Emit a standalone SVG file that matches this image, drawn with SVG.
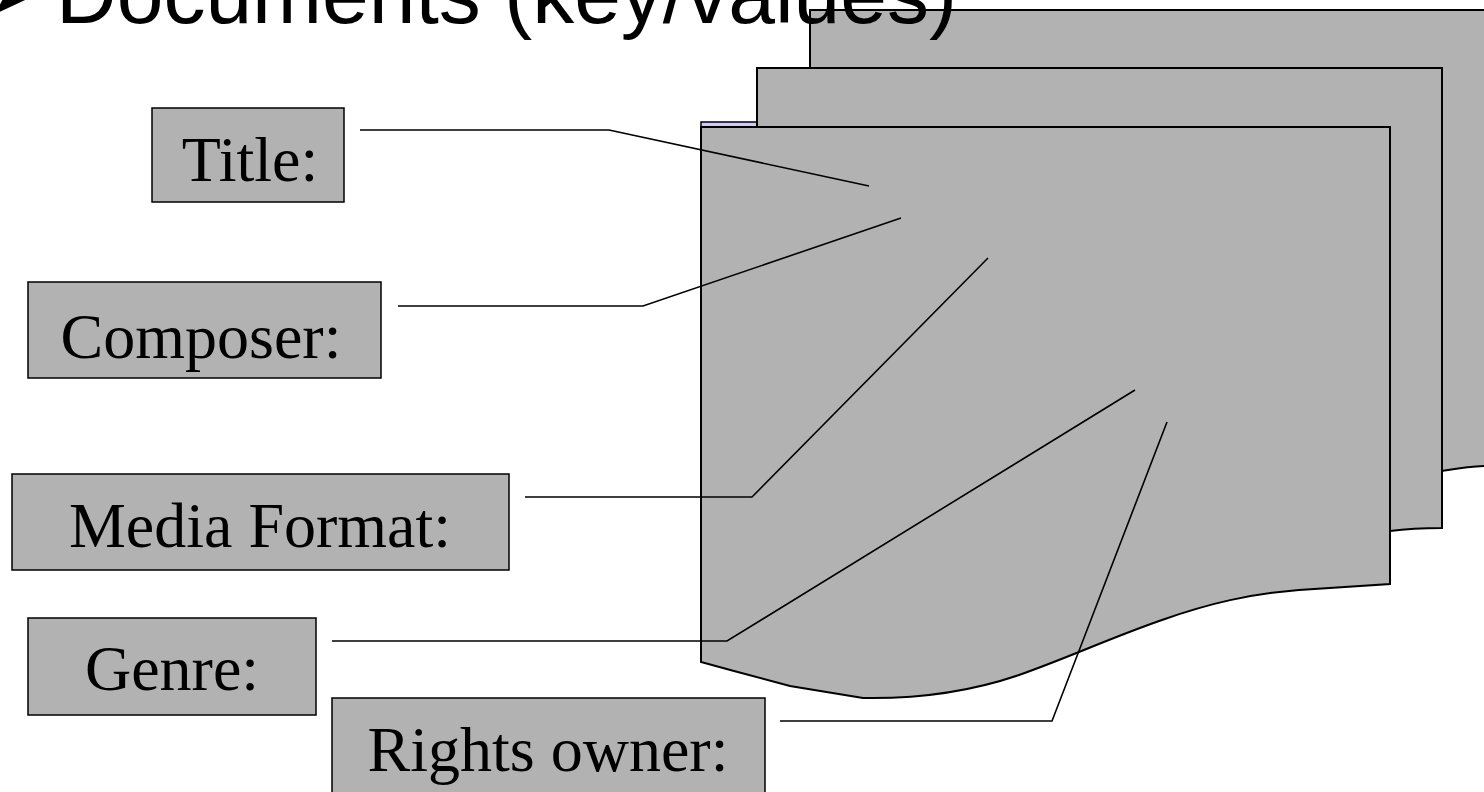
<svg xmlns="http://www.w3.org/2000/svg" width="1484" height="792" viewBox="0 0 1484 792">
<style>
.doc{fill:#b2b2b2;stroke:#000;stroke-width:2;stroke-linejoin:miter}
.box{fill:#b2b2b2;stroke:#000;stroke-width:1.5}
.lbl{font-family:"Liberation Serif","Times New Roman",serif;font-size:64px;fill:#000;text-anchor:middle}
.con{fill:none;stroke:#000;stroke-width:1.6}
.hdr{font-family:"Liberation Sans",Arial,sans-serif;font-size:84px;fill:#000}
</style>
<rect width="1484" height="792" fill="#fff"/>
<g id="documents">
<path id="doc-back" class="doc" d="M810,10 H1490 V466 C1470,466 1455,469 1442,471 L810,471 Z"/>
<rect id="doc-strip" x="701" y="122" width="100" height="100" fill="#ccccf4" stroke="#000" stroke-width="1.5"/>
<path id="doc-middle" class="doc" d="M757,68 H1442 V528 C1420,528 1405,529 1390,531 L757,531 Z"/>
<path id="doc-front" class="doc" d="M701,127 H1390 V584 L1299,590 C1250,594 1210,603 1162,620 C1110,638 1070,657 1019,675 C975,690 920,699 863,698 L790,686 L734,671 L701,662 Z"/>
</g>
<g id="connectors">
<polyline class="con" points="360,130 609,130 869,186"/>
<polyline class="con" points="398,306 643,306 901,218"/>
<polyline class="con" points="525,497 752,497 988,258"/>
<polyline class="con" points="332,641 727,641 1135,390"/>
<polyline class="con" points="780,721 1052,721 1167,422"/>
</g>
<g id="node-title">
<rect class="box" x="152" y="108" width="192" height="94"/>
<text class="lbl" x="250" y="181">Title:</text>
</g>
<g id="node-composer">
<rect class="box" x="28" y="282" width="353" height="96"/>
<text class="lbl" x="201" y="358">Composer:</text>
</g>
<g id="node-media">
<rect class="box" x="12" y="474" width="497" height="96"/>
<text class="lbl" x="260" y="547">Media Format:</text>
</g>
<g id="node-genre">
<rect class="box" x="28" y="618" width="288" height="97"/>
<text class="lbl" x="172" y="690">Genre:</text>
</g>
<g id="node-rights">
<rect class="box" x="332" y="698" width="433" height="97"/>
<text class="lbl" x="548" y="771">Rights owner:</text>
</g>
<g id="header">
<text x="-14" y="14" font-family="DejaVu Sans,sans-serif" font-size="78" fill="#000">➤</text>
<text class="hdr" x="56" y="23">Documents (key/values)</text>
</g>
</svg>
